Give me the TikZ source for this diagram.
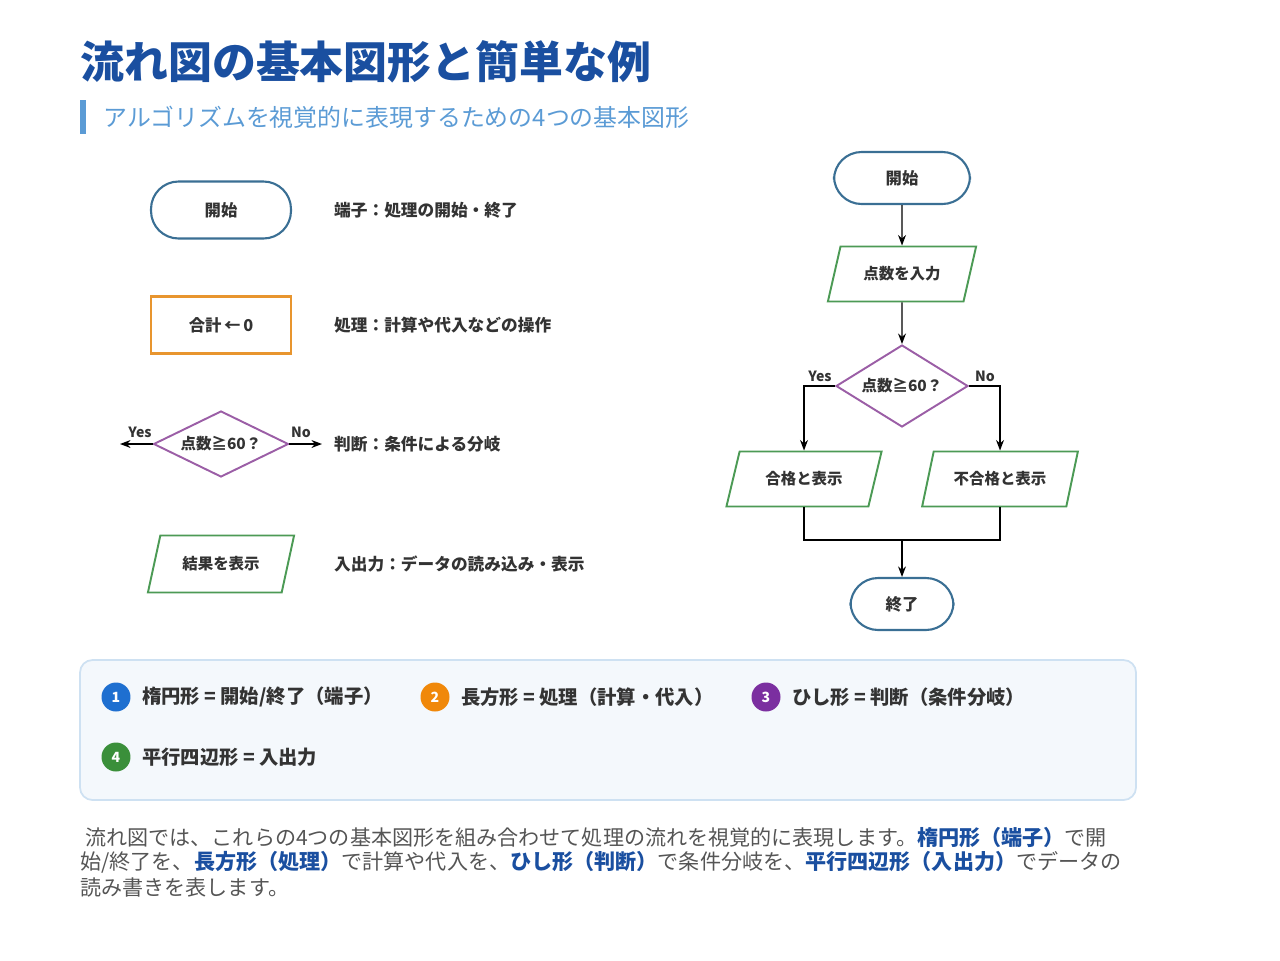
\documentclass[tikz,border=0pt]{standalone}
\usepackage{fontspec}
\setmainfont{Noto Sans CJK JP}
\usetikzlibrary{shapes.geometric,arrows.meta,positioning}
\definecolor{titleblue}{HTML}{1A4FA0}
\definecolor{subblue}{HTML}{5B9BD5}
\definecolor{termblue}{HTML}{3A6F94}
\definecolor{procorange}{HTML}{E8952E}
\definecolor{decpurple}{HTML}{9B5EA6}
\definecolor{iogreen}{HTML}{4C9A55}
\definecolor{txtgray}{HTML}{333333}
\definecolor{paragray}{HTML}{555555}
\definecolor{numblue}{HTML}{1E6FD0}
\definecolor{numorange}{HTML}{F0880A}
\definecolor{numpurple}{HTML}{7B2FA0}
\definecolor{numgreen}{HTML}{3A8F3A}
\tikzset{
  terminal/.style={rectangle, draw=termblue, line width=1.2pt, rounded corners=0.55cm,
    minimum width=2.8cm, minimum height=1.14cm, font=\fontsize{9.3}{10}\selectfont\bfseries, text=txtgray},
  process/.style={rectangle, draw=procorange, line width=1.2pt,
    minimum width=2.8cm, minimum height=1.14cm, font=\fontsize{9.3}{10}\selectfont\bfseries, text=txtgray},
  decision/.style={diamond, draw=decpurple, line width=1.1pt, aspect=2, inner sep=0pt,
    minimum width=2.7cm, minimum height=1.32cm, font=\fontsize{8.8}{10}\selectfont\bfseries, text=txtgray},
  io/.style={trapezium, draw=iogreen, line width=1.1pt, trapezium left angle=71,
    trapezium right angle=109, trapezium stretches=true,
    minimum width=2.94cm, minimum height=1.14cm, font=\fontsize{8.8}{10}\selectfont\bfseries, text=txtgray},
  desc/.style={anchor=west, font=\fontsize{9.5}{10}\selectfont\bfseries, text=txtgray},
  line/.style={draw=black, line width=0.8pt, -{Stealth[length=6pt]}},
  answer/.style={font=\fontsize{8}{10}\selectfont\bfseries, text=txtgray},
  num/.style={circle, fill=#1, text=white, minimum size=0.58cm, inner sep=0pt,
    font=\fontsize{8}{10}\selectfont\bfseries},
  legend/.style={anchor=west, font=\fontsize{11}{12}\selectfont\bfseries, text=txtgray},
  para/.style={anchor=west, font=\fontsize{12}{13}\selectfont, text=paragray, inner sep=0pt}
}
\newcommand{\hl}[1]{\textbf{\textcolor{titleblue}{#1}}}
\begin{document}
\begin{tikzpicture}[x=0.02cm, y=-0.02cm]
  \useasboundingbox (0,0) rectangle (1280,960);
  % Title
  \node[anchor=west, inner sep=0pt, text=titleblue, font=\fontsize{25}{28}\selectfont\bfseries]
    (title) at (80,62) {流れ図の基本図形と簡単な例};
  \fill[subblue] (80,100) rectangle (86,134);
  \node[anchor=west, inner sep=0pt, text=subblue, font=\fontsize{13.6}{15}\selectfont]
    (subtitle) at (103,117) {アルゴリズムを視覚的に表現するための4つの基本図形};
  % Left: the four shapes
  \node[terminal] (startL) at (221,210) {開始};
  \node[process] (procL) at (221,325) {合計\,←\,0};
  \node[decision] (decL) at (221,444) {点数≧60？};
  \node[io] (ioL) at (221,564) {結果を表示};
  \node[desc] (dterm) at (328,210) {端子：処理の開始・終了};
  \node[desc] (dproc) at (328,325) {処理：計算や代入などの操作};
  \node[desc] (ddec) at (328,444) {判断：条件による分岐};
  \node[desc] (dio) at (328,564) {入出力：データの読み込み・表示};
  \coordinate (yesL) at (120,444);
  \coordinate (noL) at (322,444);
  \path[line] (decL.west) -- (yesL);
  \path[line] (decL.east) -- (noL);
  \node[answer] at (140,432) {Yes};
  \node[answer] at (301,432) {No};
  % Right: example flowchart
  \node[terminal, minimum width=2.72cm, minimum height=1.04cm] (start) at (902,178) {開始};
  \node[io, minimum width=2.98cm, minimum height=1.1cm] (input) at (902,274) {点数を入力};
  \node[decision, minimum width=2.64cm, minimum height=1.64cm] (check) at (902,386) {点数≧60？};
  \node[io, minimum width=3.12cm, minimum height=1.1cm] (pass) at (804,479) {合格と表示};
  \node[io, minimum width=3.12cm, minimum height=1.1cm] (fail) at (1000,479) {不合格と表示};
  \node[terminal, minimum width=2.06cm, minimum height=1.04cm] (stop) at (902,604) {終了};
  \coordinate (merge) at (902,540);
  \path[line] (start) -- (input);
  \path[line] (input) -- (check);
  \path[line] (check.west) -| (pass.north);
  \path[line] (check.east) -| (fail.north);
  \draw[line width=0.8pt] (pass.south) |- (merge) -| (fail.south);
  \path[line] (merge) -- (stop);
  \node[answer] at (820,376) {Yes};
  \node[answer] at (985,376) {No};
  % Legend box
  \draw[draw=subblue!30, fill=subblue!7, line width=1pt, rounded corners=0.25cm]
    (80,660) rectangle (1136,800);
  \node[num=numblue] (n1) at (116,697) {1};
  \node[legend, right=0.1cm of n1] {楕円形 = 開始/終了（端子）};
  \node[num=numorange] (n2) at (435,697) {2};
  \node[legend, right=0.1cm of n2] {長方形 = 処理（計算・代入）};
  \node[num=numpurple] (n3) at (766,697) {3};
  \node[legend, right=0.1cm of n3] {ひし形 = 判断（条件分岐）};
  \node[num=numgreen] (n4) at (116,757) {4};
  \node[legend, right=0.1cm of n4] {平行四辺形 = 入出力};
  % Paragraph
  \node[para] (p1) at (85,837) {流れ図では、これらの4つの基本図形を組み合わせて処理の流れを視覚的に表現します。\hl{楕円形（端子）}で開};
  \node[para] (p2) at (80,862) {始/終了を、\hl{長方形（処理）}で計算や代入を、\hl{ひし形（判断）}で条件分岐を、\hl{平行四辺形（入出力）}でデータの};
  \node[para] (p3) at (80,887) {読み書きを表します。};
\end{tikzpicture}
\end{document}
